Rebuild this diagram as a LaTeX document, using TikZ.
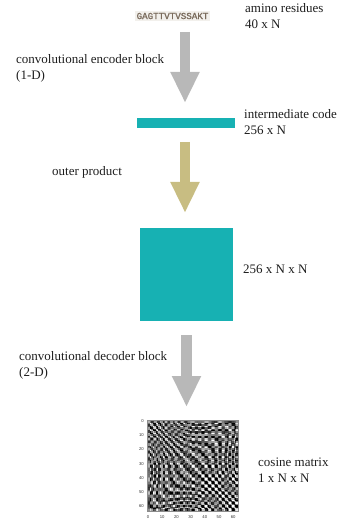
\documentclass[tikz,border=0pt]{standalone}
\usepackage{fontspec}
\setmainfont{Liberation Serif}
\newfontfamily\seqfont[FakeBold=1.2]{Liberation Mono}
\newfontfamily\tickfont{Liberation Sans}
\usetikzlibrary{arrows.meta}
\definecolor{teal1}{HTML}{17B1B3}
\definecolor{arrgray}{HTML}{B8B8B8}
\definecolor{arrtan}{HTML}{C8BD82}
\definecolor{seqtext}{HTML}{7A6B5C}
\definecolor{seqbg}{HTML}{F2F0EC}
\definecolor{txt}{HTML}{1E1E1E}
\tikzset{
  lbl/.style={inner sep=0pt, anchor=west, align=left, text=txt, font=\fontsize{13}{16}\selectfont},
  blockarrow/.style={line width=10pt, -{Triangle[width=27pt,length=31pt]}},
  tick/.style={inner sep=0pt, font=\tickfont\fontsize{4.2}{4.2}\selectfont, text=black!80}
}
\begin{document}
\begin{tikzpicture}[x=1pt,y=-1pt]
\useasboundingbox (0,0) rectangle (338,521);

% input sequence
\node[fill=seqbg, text=seqtext, inner xsep=2pt, inner ysep=1.5pt,
      font=\seqfont\fontsize{9.2}{10}\selectfont] (seq) at (172.5,16) {GAGTTVTVSSAKT};
\node[lbl] (amino) at (245,16.5) {amino residues\\40 x N};

% encoder
\coordinate (a1s) at (185,32);
\coordinate (a1e) at (185,103);
\draw[blockarrow, arrgray] (a1s) -- (a1e);
\node[lbl] (enc) at (16,68) {convolutional encoder block\\(1-D)};

% intermediate code
\fill[teal1] (137,118) rectangle (235,128);
\node[lbl] (inter) at (244,122.5) {intermediate code\\256 x N};

% outer product
\coordinate (a2s) at (185,142);
\coordinate (a2e) at (185,213);
\draw[blockarrow, arrtan] (a2s) -- (a2e);
\node[lbl] (outer) at (52,172) {outer product};

% pairwise tensor
\fill[teal1] (140,228) rectangle (233,321);
\node[lbl] (sq) at (243,269) {256 x N x N};

% decoder
\coordinate (a3s) at (186.5,335);
\coordinate (a3e) at (186.5,407);
\draw[blockarrow, arrgray, line width=11pt] (a3s) -- (a3e);
\node[lbl] (dec) at (19,365) {convolutional decoder block\\(2-D)};

% cosine similarity matrix (symmetric, bright diagonal, blocky texture)
\def\cs{1.42}
\foreach \i in {0,...,63}{
  \foreach \j in {0,...,63}{
    \pgfmathsetmacro\d{\i-\j}
    \pgfmathsetmacro\s{\i+\j}
    \pgfmathsetmacro\t{cos(78*\i+25*sin(11*\i))*cos(78*\j+25*sin(11*\j))}
    \pgfmathsetmacro\p{max(0,min(100,58-26*cos(\d*(64+30*sin(4.3*\s)))-42*\t))}
    \fill[black!\p] (147+\i*\cs,420+\j*\cs) rectangle +(\cs+0.05,\cs+0.05);
  }
}
\draw[black!45, line width=0.6pt] (147,420) rectangle (238,511);
\foreach \k in {0,10,20,30,40,50,60}{
  \node[tick, anchor=east] at (144,421+\k*1.42) {\k};
  \node[tick, anchor=north] at (148+\k*1.42,515) {\k};
}
\node[lbl] (cos) at (258,470) {cosine matrix\\1 x N x N};
\end{tikzpicture}
\end{document}
